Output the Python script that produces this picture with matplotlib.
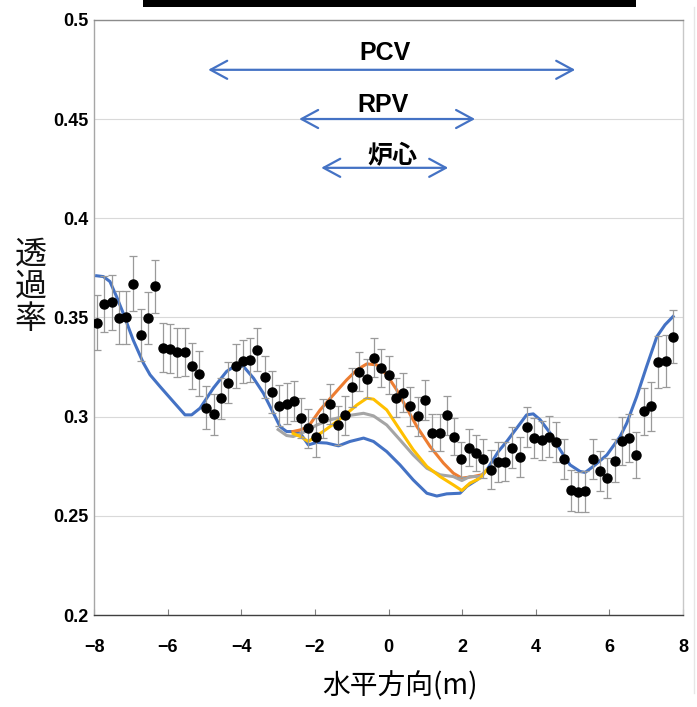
import matplotlib
matplotlib.use("Agg")
import matplotlib.pyplot as plt
from matplotlib.lines import Line2D
from matplotlib.patches import Rectangle
import numpy as np

plt.rcParams['font.family'] = ['Liberation Sans', 'Noto Sans CJK JP', 'DejaVu Sans']

# measured points (0.198 m pitch, -40 .. 39)
point_index = np.arange(-40, 40)
point_x = np.round(point_index * 0.198, 3)
point_y = [0.3474, 0.3569, 0.3577, 0.3498, 0.3500, 0.3671, 0.3412, 0.3498, 0.3658,
           0.3347, 0.3342, 0.3325, 0.3325, 0.3256, 0.3216,
           0.3046, 0.3011, 0.3092, 0.3172, 0.3256, 0.3278, 0.3286, 0.3337, 0.3202,
           0.3124, 0.3056, 0.3065,
           0.3078, 0.2992, 0.2942, 0.2895, 0.2991, 0.3065, 0.2957, 0.3006, 0.3147,
           0.3226, 0.3192, 0.3298, 0.3244,
           0.3211, 0.3096, 0.3121, 0.3053, 0.3003, 0.3083, 0.2920, 0.2920, 0.3006,
           0.2898, 0.2786, 0.2844, 0.2817, 0.2787, 0.2732, 0.2772,
           0.2774, 0.2844, 0.2796, 0.2947, 0.2893, 0.2880, 0.2900, 0.2871, 0.2787,
           0.2628, 0.2621, 0.2624, 0.2787, 0.2727, 0.2692, 0.2779,
           0.2878, 0.2892, 0.2806, 0.3026, 0.3053, 0.3276, 0.3280, 0.3402]
point_err = [0.0139, 0.0140, 0.0139, 0.0133, 0.0135, 0.0139, 0.0130, 0.0130, 0.0134,
             0.0124, 0.0123, 0.0123, 0.0120, 0.0116, 0.0113,
             0.0107, 0.0102, 0.0105, 0.0105, 0.0112, 0.0109, 0.0109, 0.0109, 0.0106,
             0.0105, 0.0102, 0.0103,
             0.0102, 0.0100, 0.0098, 0.0098, 0.0100, 0.0100, 0.0098, 0.0100, 0.0100,
             0.0098, 0.0098, 0.0097, 0.0097,
             0.0097, 0.0097, 0.0098, 0.0098, 0.0098, 0.0100, 0.0095, 0.0095, 0.0097,
             0.0093, 0.0088, 0.0092, 0.0093, 0.0098, 0.0098, 0.0100,
             0.0100, 0.0102, 0.0100, 0.0101, 0.0100, 0.0100, 0.0101, 0.0102, 0.0100,
             0.0102, 0.0102, 0.0102, 0.0102, 0.0101, 0.0100, 0.0110,
             0.0120, 0.0120, 0.0115, 0.0120, 0.0123, 0.0132, 0.0132, 0.0134]

# simulation curves
blue_x = [-7.93, -7.75, -7.57, -7.39, -7.21, -6.94, -6.66, -6.48, -6.21, -5.85, -5.53,
          -5.35, -5.12, -4.76, -4.40, -4.13, -3.94, -3.67, -3.40, -3.13, -2.95, -2.77,
          -2.59, -2.40, -2.18, -1.95, -1.68, -1.36, -1.05, -0.68, -0.41, -0.05, 0.31,
          0.67, 1.04, 1.31, 1.58, 1.94, 2.12, 2.40, 2.67, 2.98, 3.21, 3.48, 3.75, 3.93,
          4.12, 4.39, 4.66, 4.93, 5.20, 5.34, 5.56, 5.93, 6.29, 6.47, 6.74, 7.01, 7.29,
          7.51, 7.73]
blue_y = [0.3710, 0.3706, 0.3681, 0.3605, 0.3522, 0.3387, 0.3270, 0.3211, 0.3152, 0.3076,
          0.3009, 0.3009, 0.3043, 0.3144, 0.3228, 0.3261, 0.3253, 0.3194, 0.3118, 0.3018,
          0.2950, 0.2925, 0.2925, 0.2917, 0.2858, 0.2870, 0.2867, 0.2853, 0.2875, 0.2892,
          0.2875, 0.2824, 0.2757, 0.2681, 0.2614, 0.2600, 0.2611, 0.2614, 0.2648, 0.2681,
          0.2732, 0.2824, 0.2875, 0.2942, 0.3009, 0.3014, 0.2984, 0.2917, 0.2833, 0.2757,
          0.2724, 0.2719, 0.2749, 0.2807, 0.2900, 0.2967, 0.3101, 0.3253, 0.3404, 0.3463,
          0.3505]

orange_x = [-2.60, -2.40, -2.18, -1.86, -1.50, -1.14, -0.86, -0.59, -0.32, -0.05, 0.22,
            0.49, 0.77, 1.13, 1.49, 1.76, 1.99, 2.30, 2.53]
orange_y = [0.2925, 0.2933, 0.2950, 0.3034, 0.3110, 0.3185, 0.3236, 0.3266, 0.3261, 0.3211,
            0.3135, 0.3043, 0.2950, 0.2849, 0.2766, 0.2715, 0.2690, 0.2698, 0.2707]

gray_x = [-3.00, -2.77, -2.59, -2.40, -2.18, -1.95, -1.59, -1.14, -0.68, -0.41, -0.05,
          0.31, 0.67, 1.04, 1.40, 1.76, 1.99, 2.21, 2.49, 2.67]
gray_y = [0.2935, 0.2905, 0.2900, 0.2913, 0.2933, 0.2958, 0.2984, 0.3004, 0.3017, 0.3004,
          0.2958, 0.2883, 0.2807, 0.2740, 0.2707, 0.2698, 0.2678, 0.2698, 0.2698, 0.2732]

yellow_x = [-2.59, -2.40, -2.18, -1.95, -1.59, -1.23, -0.86, -0.59, -0.41, -0.05, 0.31,
            0.67, 1.04, 1.40, 1.76, 1.99, 2.21, 2.49, 2.67]
yellow_y = [0.2915, 0.2900, 0.2875, 0.2903, 0.2950, 0.3001, 0.3059, 0.3093, 0.3088, 0.3034,
            0.2933, 0.2833, 0.2749, 0.2698, 0.2656, 0.2628, 0.2665, 0.2690, 0.2732]

# range arrows: label, left, right, arrow height, text x, text height
range_labels = ['PCV', 'RPV', '炉心']
range_left = [-4.90, -2.43, -1.83]
range_right = [5.07, 2.35, 1.62]
range_y = [0.4748, 0.4500, 0.4254]
range_text_x = [-0.10, -0.15, 0.10]
range_text_y = [0.4834, 0.4572, 0.4310]

x_ticks = [-8, -6, -4, -2, 0, 2, 4, 6, 8]
y_ticks = [0.2, 0.25, 0.3, 0.35, 0.4, 0.45, 0.5]
y_tick_labels = ['0.2', '0.25', '0.3', '0.35', '0.4', '0.45', '0.5']

fig = plt.figure(figsize=(6.97, 7.07), dpi=100)
ax = fig.add_axes([0.135, 0.130, 0.845, 0.842])

ax.plot(blue_x, blue_y, color='#4472C4', lw=2.2, zorder=3)
ax.plot(orange_x, orange_y, color='#ED7D31', lw=2.2, zorder=3)
ax.plot(gray_x, gray_y, color='#A5A5A5', lw=2.2, zorder=3)
ax.plot(yellow_x, yellow_y, color='#FFC000', lw=2.2, zorder=3)

ax.errorbar(point_x, point_y, yerr=point_err, fmt='o', color='black', ms=6.5,
            ecolor='#9a9a9a', elinewidth=0.9, capsize=2.6, capthick=0.9, zorder=4)

for i in range(len(range_labels)):
    ax.annotate('', xy=(range_left[i], range_y[i]), xytext=(range_right[i], range_y[i]),
                arrowprops=dict(arrowstyle='<->,head_length=1.2,head_width=0.65',
                                color='#4472C4', lw=1.6, shrinkA=0, shrinkB=0))
    ax.text(range_text_x[i], range_text_y[i], range_labels[i], ha='center', va='center',
            fontsize=18, fontweight='bold',
            family=['Liberation Sans', 'Noto Sans CJK JP'])

ax.set_xlim(-8, 8)
ax.set_ylim(0.2, 0.5)
ax.set_xticks(x_ticks)
ax.set_xticklabels(['\u2212' + str(-t) if t < 0 else str(t) for t in x_ticks])
ax.set_yticks(y_ticks)
ax.set_yticklabels(y_tick_labels)
ax.tick_params(axis='x', direction='in', length=4, color='#808080', pad=17,
               labelsize=13)
ax.tick_params(axis='y', length=0, pad=4, labelsize=13)
for lab in ax.get_xticklabels() + ax.get_yticklabels():
    lab.set_fontweight('bold')

ax.grid(axis='y', color='#d9d9d9', lw=0.8)
ax.set_axisbelow(True)
ax.spines['left'].set_color('#a6a6a6')
ax.spines['right'].set_color('#c8c8c8')
ax.spines['top'].set_color('#8c8c8c')
ax.spines['bottom'].set_color('#404040')
for s in ax.spines.values():
    s.set_linewidth(1.0)

ax.set_xlabel('水平方向(m)', fontsize=20, family=['Noto Sans CJK JP'])
ax.xaxis.set_label_coords(0.52, -0.095)
fig.text(0.044, 0.594, '透\n過\n率', fontsize=23, ha='center', va='center',
         linespacing=1.0, family=['Noto Sans CJK JP'], color='#111111')

# black bar across the top and faint outer border on the right
fig.add_artist(Rectangle((0.205, 0.990), 0.707, 0.010, transform=fig.transFigure,
                         color='black', lw=0))
fig.add_artist(Line2D([0.995, 0.995], [0.02, 0.99], transform=fig.transFigure,
                      color='#e6e6e6', lw=1))

fig.savefig('out.png', dpi=100)
